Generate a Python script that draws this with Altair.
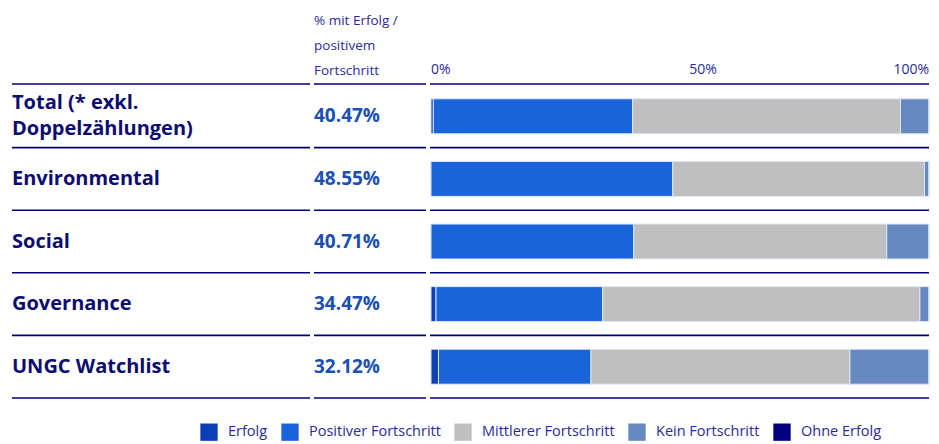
import altair as alt
import pandas as pd

categories = ["Total (* exkl.\nDoppelzählungen)", "Environmental", "Social", "Governance", "UNGC Watchlist"]
pct_labels = ["40.47%", "48.55%", "40.71%", "34.47%", "32.12%"]
series = ["Erfolg", "Positiver Fortschritt", "Mittlerer Fortschritt", "Kein Fortschritt", "Ohne Erfolg"]
colors = ["#0a3fb8", "#1a64db", "#bfbfbf", "#6789c1", "#00007f"]
erfolg = [0.47, 0.0, 0.0, 1.0, 1.5]
positiv = [40.0, 48.55, 40.71, 33.47, 30.62]
mittlerer = [53.8, 50.55, 50.8, 63.7, 52.0]
kein = [5.73, 0.9, 8.49, 1.83, 15.88]
ohne = [0.0, 0.0, 0.0, 0.0, 0.0]
ticks = [0, 50, 100]
tick_labels = ["0%", "50%", "100%"]
header = "% mit Erfolg /\npositivem\nFortschritt"

NAVY = "#0c0c72"
LINE = "#00007a"
FONT = "Open Sans"

rows = []
for i, c in enumerate(categories):
    for j, (s, vals) in enumerate(zip(series, [erfolg, positiv, mittlerer, kein, ohne])):
        rows.append({"cat": c, "series": s, "value": vals[i], "order": j})
bars_df = pd.DataFrame(rows)
cat_df = pd.DataFrame({"cat": categories, "pct": pct_labels,
                       "multi": [("\n" in c) for c in categories]})
tick_df = pd.DataFrame({"t": ticks, "lab": tick_labels})

yscale = alt.Scale(domain=categories, range=[85, 398], paddingInner=0, paddingOuter=0)
xscale = alt.Scale(domain=[0, 100], range=[431, 929])
Ycat = alt.Y("cat:N", scale=yscale, axis=None, sort=categories)

bars = alt.Chart(bars_df).mark_bar(size=35, stroke="#dfe7f6", strokeWidth=1).encode(
    y=Ycat,
    x=alt.X("sum(value):Q", scale=xscale, axis=None, stack="zero"),
    color=alt.Color(
        "series:N",
        scale=alt.Scale(domain=series, range=colors),
        legend=alt.Legend(
            orient="none", legendX=200, legendY=423, direction="horizontal",
            title=None, symbolType="square", symbolSize=300, symbolStrokeWidth=0,
            symbolOpacity=1,
            labelFont=FONT, labelFontSize=14.5, labelColor="#2a2a9a", labelLimit=300,
            columnPadding=13, labelOffset=10,
        ),
    ),
    order=alt.Order("order:Q"),
)

base = alt.Chart(cat_df)

label_single = base.transform_filter("!datum.multi").mark_text(
    align="left", baseline="middle", font=FONT, fontWeight="bold", fontSize=20,
    color=NAVY,
).encode(y=Ycat, x=alt.value(12), text="cat:N")

label_multi = base.transform_filter("datum.multi").mark_text(
    align="left", baseline="middle", font=FONT, fontWeight="bold", fontSize=20,
    color=NAVY, lineBreak="\n", lineHeight=26, dy=-13,
).encode(y=Ycat, x=alt.value(12), text="cat:N")

pcts = base.mark_text(
    align="left", baseline="middle", font=FONT, fontWeight="bold", fontSize=19,
    color="#1a4fb5",
).encode(y=Ycat, x=alt.value(314), text="pct:N")

def seg_rules(x1, x2):
    bottom = base.mark_rule(color=LINE, strokeWidth=1.6).encode(
        y=alt.Y("cat:N", scale=yscale, axis=None, sort=categories, bandPosition=1),
        x=alt.value(x1), x2=alt.value(x2),
    )
    top = alt.Chart(pd.DataFrame({"a": [0]})).mark_rule(color=LINE, strokeWidth=1.6).encode(
        y=alt.value(84), x=alt.value(x1), x2=alt.value(x2),
    )
    return [bottom, top]

rules = seg_rules(12, 310) + seg_rules(314, 426) + seg_rules(430, 929)

head = alt.Chart(pd.DataFrame({"h": [header]})).mark_text(
    align="left", baseline="middle", font=FONT, fontSize=13.5, color="#2a2a9a",
    lineBreak="\n", lineHeight=25,
).encode(x=alt.value(314), y=alt.value(21), text="h:N")

tick_layers = []
for t, al, dx in [(0, "left", 0), (50, "center", 23), (100, "right", 0)]:
    tick_layers.append(
        alt.Chart(tick_df[tick_df.t == t]).mark_text(
            align=al, baseline="middle", font=FONT, fontSize=14, color="#2a2a9a", dx=dx,
        ).encode(x=alt.X("t:Q", scale=xscale, axis=None), y=alt.value(70), text="lab:N")
    )

chart = alt.layer(bars, label_single, label_multi, pcts, head, *tick_layers, *rules).properties(
    width=939, height=444, autosize=alt.AutoSizeParams(type="none"),
    padding=0,
).configure_view(stroke=None).resolve_scale(y="shared", x="shared")

chart.save("out.html", embed_options={"renderer": "svg", "actions": False})
